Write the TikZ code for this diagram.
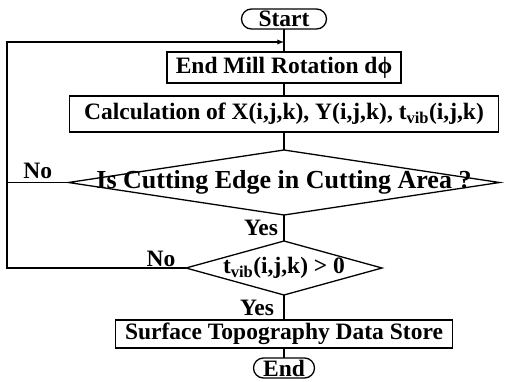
\documentclass[tikz,border=0pt]{standalone}
\usepackage{fontspec}
\setmainfont{Liberation Serif}
\usetikzlibrary{shapes.geometric, positioning, arrows}

\begin{document}
\begin{tikzpicture}[line width=1.3pt,
        font=\fontsize{23.5}{28}\selectfont\bfseries,
        box/.style={draw, rectangle, inner sep=0pt, outer sep=0pt},
        term/.style={draw, rounded corners=10pt, inner sep=0pt, outer sep=0pt, minimum height=20pt},
        test/.style={draw, diamond, inner sep=0pt, outer sep=0pt}]
        \useasboundingbox (0,0) rectangle (506pt,-381pt);
        \node[term, minimum width=85pt] (start) at (284pt,-19pt) {Start};
        \node[box, minimum width=234pt, minimum height=31pt] (rot) [below=23pt of start] {End Mill Rotation d\symbol{"03D5}};
        \node[box, minimum width=429pt, minimum height=36pt] (calc) [below=13pt of rot] {Calculation of X(i,j,k), Y(i,j,k), t\textsubscript{vib}(i,j,k)};
        \node[test, minimum width=431pt, minimum height=65pt] (cut) [below=18pt of calc] {};
        \node[font=\fontsize{26}{30}\selectfont\bfseries] (cuttext) at (cut) {Is Cutting Edge in Cutting Area ?};
        \node[test, minimum width=196pt, minimum height=54pt] (tst) [below=26pt of cut] {};
        \node (tsttext) at (tst) {t\textsubscript{vib}(i,j,k) > 0};
        \node[box, minimum width=337pt, minimum height=28pt] (store) [below=25pt of tst] {Surface Topography Data Store};
        \node[term, minimum width=61pt] (stop) [below=10pt of store] {End};
        \coordinate (lft) at (7pt,-42pt);

        \path (start) edge (rot);
        \path (rot) edge (calc);
        \path (calc) edge (cut);
        \draw (cut) -- node[left, xshift=-2pt] {Yes} (tst);
        \draw (tst) -- node[left, xshift=-6pt] {Yes} (store);
        \path (store) edge (stop);
        \draw (cut.west) -- node[above] {No} (cut.west -| lft);
        \draw[-latex] (tst.west) -- (tst.west -| lft) -- (lft) -- (lft -| start);
        \node[anchor=south east, inner sep=1pt] (tstno) at ([xshift=-9pt]tst.west) {No};
    \end{tikzpicture}
\end{document}
